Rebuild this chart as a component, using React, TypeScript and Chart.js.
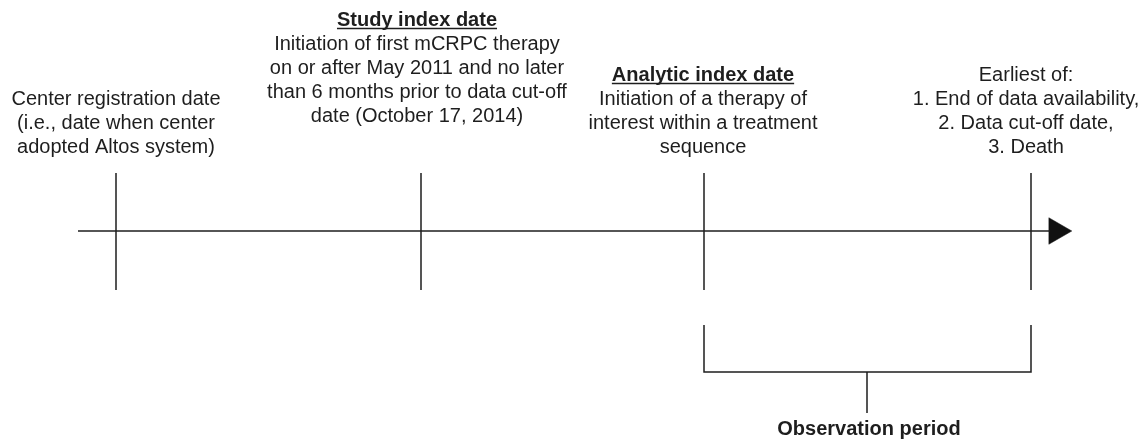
import React, { useEffect, useRef } from "react";
import { Chart, registerables } from "chart.js";

Chart.register(...registerables);

// Event positions along the timeline (x units of the diagram)
const eventNames = [
  "Center registration date",
  "Study index date",
  "Analytic index date",
  "End of observation",
];
const eventX = [116, 421, 704, 1031];

// Timeline geometry (diagram units)
const timelineStartX = 78;
const timelineEndX = 1050;
const timelineY = 231;
const tickTopY = 173;
const tickBottomY = 290;
const arrowX = 1056.5;

// Observation period bracket
const bracketStartX = 704;
const bracketEndX = 1031;
const bracketTopY = 325;
const bracketBottomY = 372;
const stemX = 867;
const stemBottomY = 413;

// Text blocks above each event
const labelCenterX = [116, 417, 703, 1026];
const labelFirstBaseline = [105, 26, 81, 81];
const labelHeaders = ["", "Study index date", "Analytic index date", ""];
const labelLines = [
  ["Center registration date", "(i.e., date when center", "adopted Altos system)"],
  [
    "Initiation of first mCRPC therapy",
    "on or after May 2011 and no later",
    "than 6 months prior to data cut-off",
    "date (October 17, 2014)",
  ],
  ["Initiation of a therapy of", "interest within a treatment", "sequence"],
  ["Earliest of:", "1. End of data availability,", "2. Data cut-off date,", "3. Death"],
];
const observationLabel = "Observation period";
const observationLabelX = 869;
const observationLabelBaseline = 435;

const INK = "#1e1e1e";
const FONT = '"Liberation Sans", Arial, sans-serif';
const LINE_H = 24;

export default function App() {
  const ref = useRef<HTMLCanvasElement | null>(null);

  useEffect(() => {
    document.body.style.margin = "0";
    const canvas = ref.current!;

    const lineDs = (pts: { x: number; y: number }[], label: string) => ({
      label,
      data: pts,
      showLine: true,
      borderColor: INK,
      borderWidth: 1.5,
      pointRadius: 0,
      fill: false,
      tension: 0,
      clip: false,
    });

    const datasets: any[] = [];
    datasets.push(
      lineDs(
        [
          { x: timelineStartX, y: timelineY },
          { x: timelineEndX, y: timelineY },
        ],
        "timeline"
      )
    );
    eventX.forEach((x, i) => {
      datasets.push(
        lineDs(
          [
            { x, y: tickTopY },
            { x, y: tickBottomY },
          ],
          eventNames[i]
        )
      );
    });
    datasets.push(
      lineDs(
        [
          { x: bracketStartX, y: bracketTopY },
          { x: bracketStartX, y: bracketBottomY },
          { x: bracketEndX, y: bracketBottomY },
          { x: bracketEndX, y: bracketTopY },
        ],
        "bracket"
      )
    );
    datasets.push(
      lineDs(
        [
          { x: stemX, y: bracketBottomY },
          { x: stemX, y: stemBottomY },
        ],
        "stem"
      )
    );
    datasets.push({
      label: "arrow",
      data: [{ x: arrowX, y: timelineY }],
      showLine: false,
      pointStyle: "triangle",
      rotation: 90,
      pointRadius: 15.3,
      backgroundColor: "#111",
      borderColor: "#111",
      borderWidth: 0.5,
      clip: false,
    });

    const textPlugin = {
      id: "textBlocks",
      afterDraw(chart: any) {
        const ctx = chart.ctx as CanvasRenderingContext2D;
        const xs = chart.scales.x;
        const ys = chart.scales.y;
        ctx.save();
        ctx.fillStyle = INK;
        ctx.strokeStyle = INK;
        ctx.textAlign = "center";
        ctx.textBaseline = "alphabetic";
        labelCenterX.forEach((cx, i) => {
          const px = xs.getPixelForValue(cx);
          let base = labelFirstBaseline[i];
          const header = labelHeaders[i];
          if (header) {
            ctx.font = `bold 20px ${FONT}`;
            const py = ys.getPixelForValue(base);
            ctx.fillText(header, px, py);
            const w = ctx.measureText(header).width;
            ctx.lineWidth = 1.6;
            ctx.beginPath();
            ctx.moveTo(px - w / 2, py + 2.5);
            ctx.lineTo(px + w / 2, py + 2.5);
            ctx.stroke();
            base += LINE_H;
          }
          ctx.font = `20px ${FONT}`;
          labelLines[i].forEach((line, j) => {
            ctx.fillText(line, px, ys.getPixelForValue(base + j * LINE_H));
          });
        });
        ctx.font = `bold 20px ${FONT}`;
        ctx.fillText(
          observationLabel,
          xs.getPixelForValue(observationLabelX),
          ys.getPixelForValue(observationLabelBaseline)
        );
        ctx.restore();
      },
    };

    const chart = new Chart(canvas, {
      type: "scatter",
      data: { datasets },
      options: {
        animation: false,
        responsive: false,
        maintainAspectRatio: false,
        layout: { padding: 0, autoPadding: false },
        plugins: {
          legend: { display: false },
          tooltip: { enabled: false },
        },
        scales: {
          x: { type: "linear", min: 0, max: 1144, display: false },
          y: { type: "linear", min: 0, max: 439, reverse: true, display: false },
        },
      },
      plugins: [textPlugin],
    });
    return () => chart.destroy();
  }, []);

  return (
    <div style={{ width: 1144, height: 439, background: "#fff" }}>
      <canvas ref={ref} width={1144} height={439} style={{ display: "block" }} />
    </div>
  );
}
